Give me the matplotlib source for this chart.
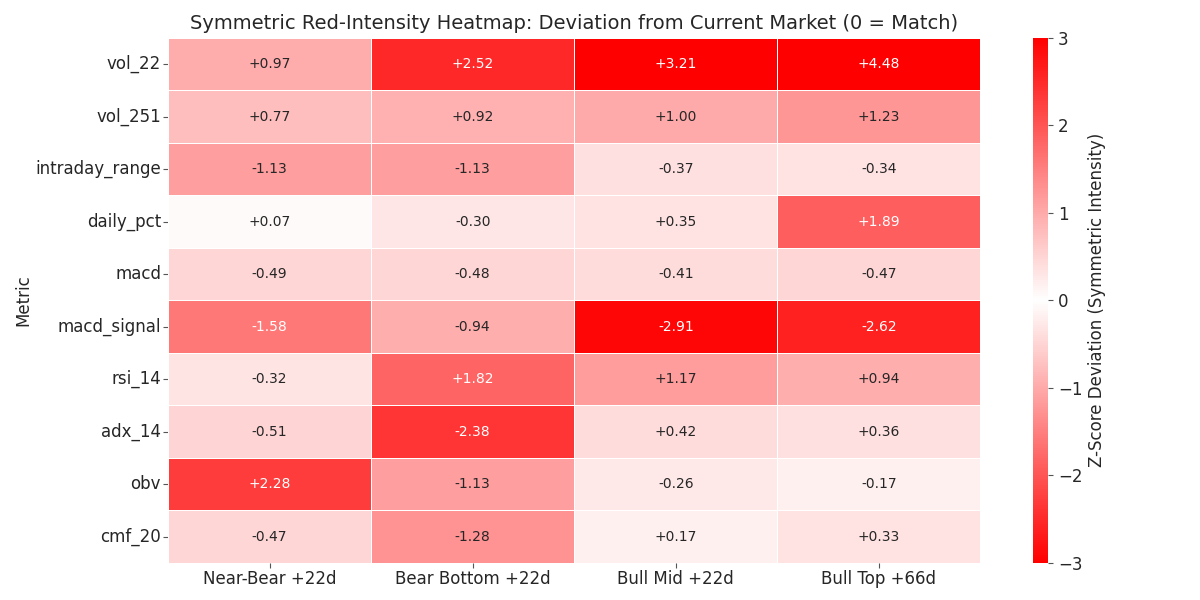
import numpy as np
import pandas as pd
import matplotlib
matplotlib.use("Agg")
import matplotlib.pyplot as plt
import seaborn as sns
from matplotlib.colors import LinearSegmentedColormap

metrics = ["vol_22", "vol_251", "intraday_range", "daily_pct", "macd",
           "macd_signal", "rsi_14", "adx_14", "obv", "cmf_20"]
scenarios = ["Near-Bear +22d", "Bear Bottom +22d", "Bull Mid +22d", "Bull Top +66d"]

near_bear = [0.97, 0.77, -1.13, 0.07, -0.49, -1.58, -0.32, -0.51, 2.28, -0.47]
bear_bottom = [2.52, 0.92, -1.13, -0.30, -0.48, -0.94, 1.82, -2.38, -1.13, -1.28]
bull_mid = [3.21, 1.00, -0.37, 0.35, -0.41, -2.91, 1.17, 0.42, -0.26, 0.17]
bull_top = [4.48, 1.23, -0.34, 1.89, -0.47, -2.62, 0.94, 0.36, -0.17, 0.33]

df = pd.DataFrame({scenarios[0]: near_bear, scenarios[1]: bear_bottom,
                   scenarios[2]: bull_mid, scenarios[3]: bull_top}, index=metrics)
df.index.name = "Metric"

sns.set_theme(style="white")
plt.rcParams['font.family'] = ['DejaVu Sans']

cmap = LinearSegmentedColormap.from_list("symred", ["#ff0000", "#ffffff", "#ff0000"])

fig = plt.figure(figsize=(12, 6), dpi=100)
ax = fig.add_axes([0.140, 0.062, 0.677, 0.875])
cax = fig.add_axes([0.861, 0.062, 0.0125, 0.875])

annot = df.map(lambda v: f"{v:+.2f}")
sns.heatmap(df, ax=ax, cbar_ax=cax, cmap=cmap, vmin=-3, vmax=3, center=0,
            annot=annot, fmt="", annot_kws={"fontsize": 10},
            linewidths=0.7, linecolor="white",
            cbar_kws={"label": "Z-Score Deviation (Symmetric Intensity)"})

ax.set_title("Symmetric Red-Intensity Heatmap: Deviation from Current Market (0 = Match)",
             fontsize=14, pad=6)
ax.set_xlabel("")
ax.set_ylabel("Metric", fontsize=12, labelpad=2)
ax.tick_params(axis="both", labelsize=12, length=3.5, width=0.8, pad=1.5,
               bottom=True, left=True, color="#555555")
plt.setp(ax.get_yticklabels(), rotation=0)
plt.setp(ax.get_xticklabels(), rotation=0)
cax.tick_params(labelsize=12, length=3.5, width=0.8, pad=3.5, right=True, color="#555555")
cax.yaxis.label.set_size(12)

fig.savefig("out.png", dpi=100)
